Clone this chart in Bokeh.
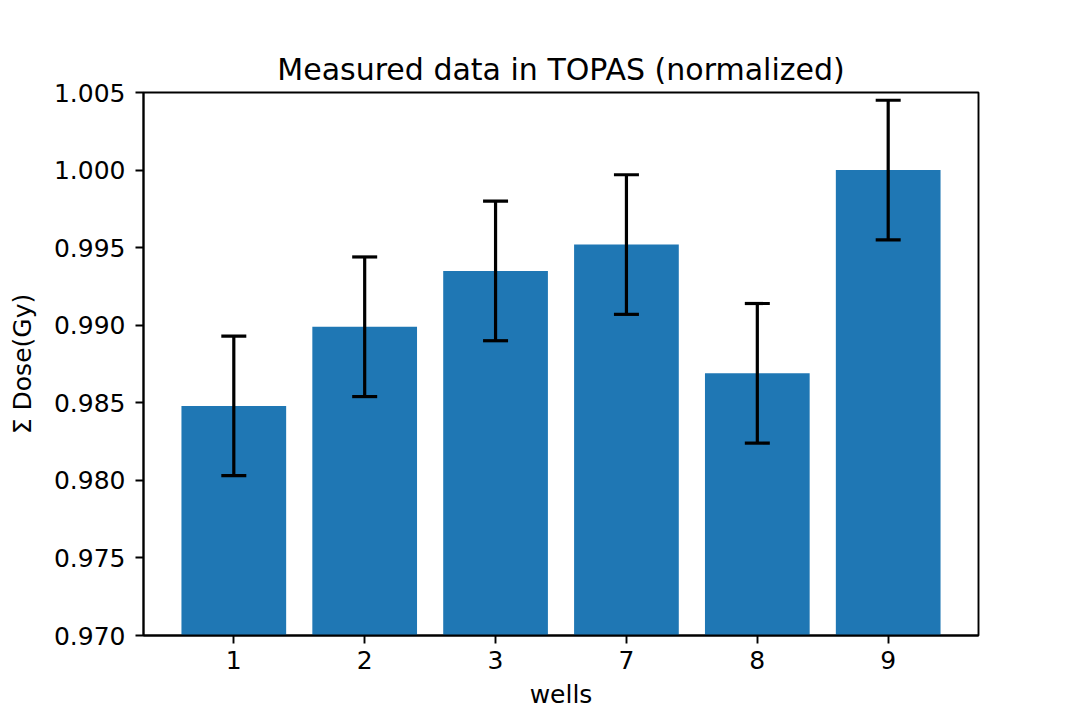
import numpy as np
from bokeh.plotting import figure
from bokeh.models import ColumnDataSource, Range1d, FixedTicker, Whisker, TeeHead, PrintfTickFormatter
from bokeh.embed import file_html
from bokeh.resources import INLINE

# data
wells = ["1", "2", "3", "7", "8", "9"]
dose = [0.9848, 0.9899, 0.9935, 0.9952, 0.9869, 1.0000]
dose_err = [0.0045, 0.0045, 0.0045, 0.0045, 0.0045, 0.0045]
y_ticks = [0.970, 0.975, 0.980, 0.985, 0.990, 0.995, 1.000, 1.005]

x = list(range(len(wells)))
src = ColumnDataSource(dict(
    x=x, top=dose,
    upper=[d + e for d, e in zip(dose, dose_err)],
    lower=[d - e for d, e in zip(dose, dose_err)],
))

FONT = "DejaVu Sans"

p = figure(
    output_backend="svg", toolbar_location=None,
    frame_width=835, frame_height=543,
    x_range=Range1d(-0.69, 5.69), y_range=Range1d(y_ticks[0], y_ticks[-1]),
    title="Measured data in TOPAS (normalized)",
    x_axis_label="wells", y_axis_label="Σ Dose(Gy)",
    min_border_left=143, min_border_top=92, min_border_right=78, min_border_bottom=60,
)
p.background_fill_color = "white"
p.border_fill_color = "white"
p.grid.visible = False
p.outline_line_color = "black"
p.outline_line_width = 1.9
p.outline_line_alpha = 1.0

p.vbar(x="x", top="top", bottom=0, width=0.8, source=src,
       fill_color="#1f77b4", line_color=None)

w = Whisker(source=src, base="x", upper="upper", lower="lower",
            level="overlay",
            line_color="black", line_width=3.2,
            upper_head=TeeHead(size=25, line_width=3.2, line_color="black"),
            lower_head=TeeHead(size=25, line_width=3.2, line_color="black"))
p.add_layout(w)

p.title.align = "center"
p.title.text_font = FONT
p.title.text_font_size = "30px"
p.title.text_font_style = "normal"
p.title.text_color = "black"
p.title.standoff = 12

for ax in (p.xaxis[0], p.yaxis[0]):
    ax.axis_line_color = "black"
    ax.axis_line_width = 1.9
    ax.major_tick_line_color = "black"
    ax.major_tick_line_width = 1.9
    ax.major_tick_out = 8
    ax.major_tick_in = 0
    ax.minor_tick_line_color = None
    ax.major_label_text_font = FONT
    ax.major_label_text_font_size = "25px"
    ax.major_label_text_color = "black"
    ax.axis_label_text_font = FONT
    ax.axis_label_text_font_size = "25px"
    ax.axis_label_text_font_style = "normal"
    ax.axis_label_text_color = "black"

p.xaxis.ticker = FixedTicker(ticks=x)
p.xaxis.major_label_overrides = {i: lab for i, lab in zip(x, wells)}
p.xaxis.major_label_standoff = 7
p.xaxis.axis_label_standoff = 8

p.yaxis.ticker = FixedTicker(ticks=y_ticks)
p.yaxis.formatter = PrintfTickFormatter(format="%.3f")
p.yaxis.major_label_standoff = 10
p.yaxis.axis_label_standoff = 14

open("out.html", "w").write(file_html(p, INLINE))
